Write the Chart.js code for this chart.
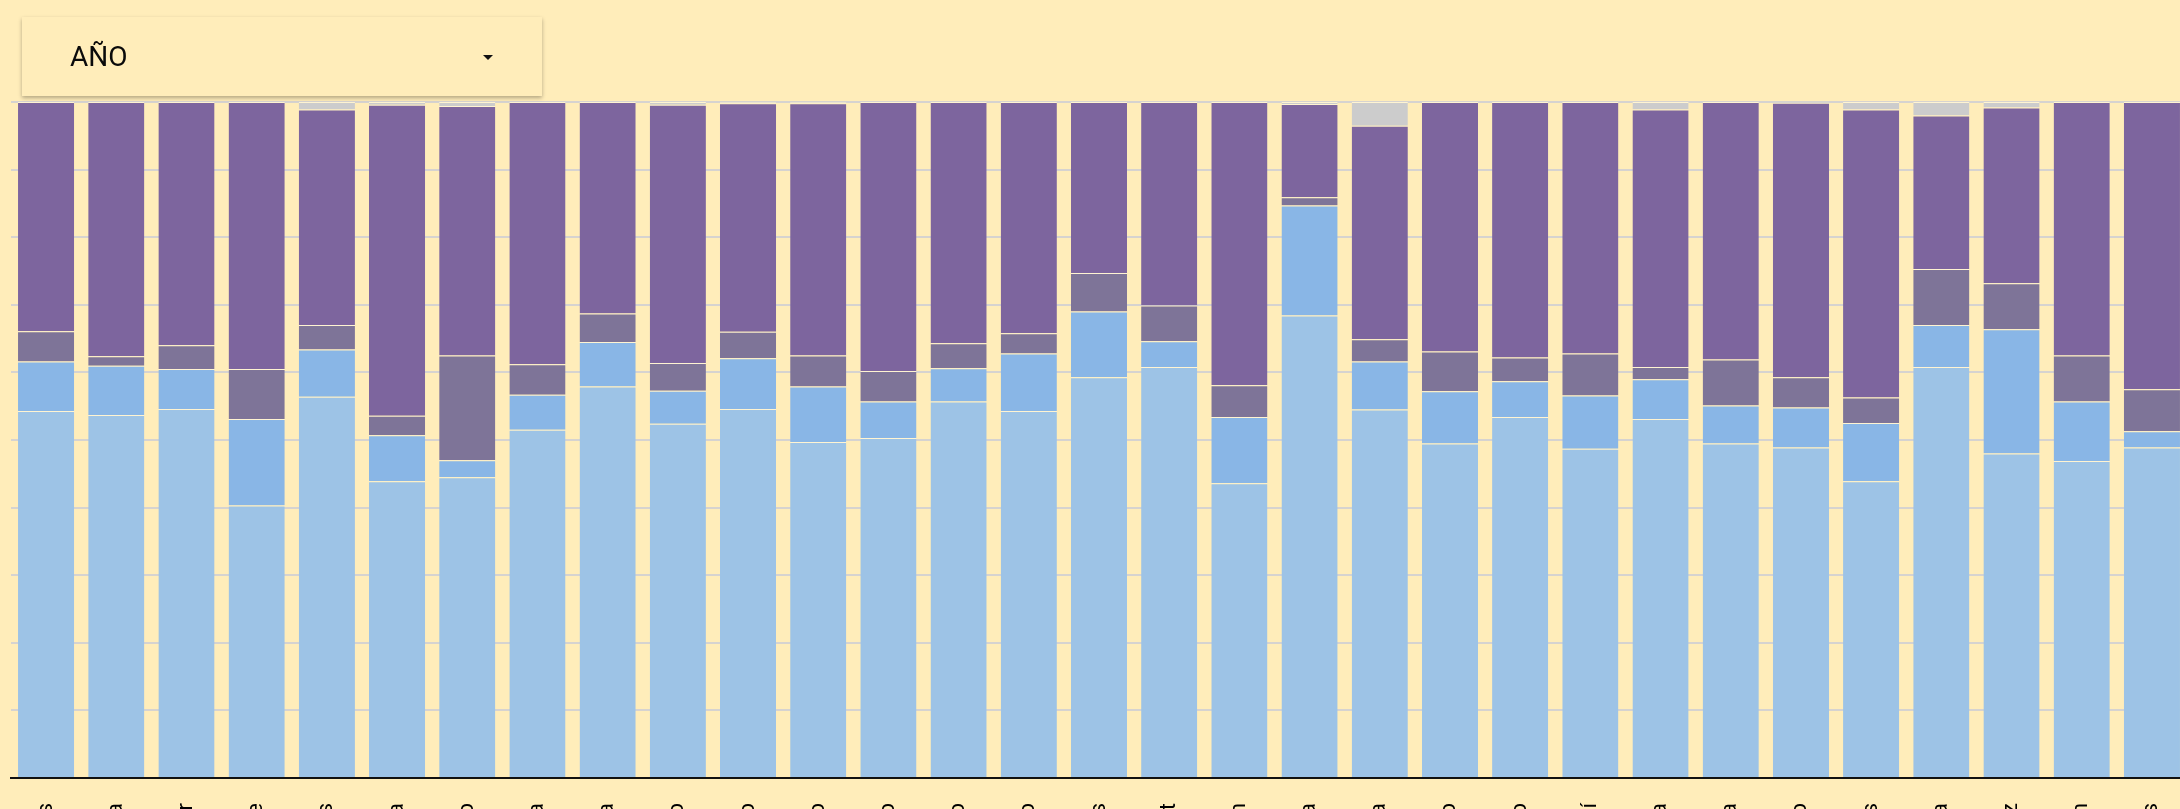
<!DOCTYPE html>
<html lang="es">
<head>
<meta charset="utf-8">
<title>Año</title>
<script src="https://cdn.jsdelivr.net/npm/chart.js@4.4.1/dist/chart.umd.min.js"></script>
<style>
  html, body {
    margin: 0;
    padding: 0;
    background: #ffedba;
    overflow: hidden;
    width: 2180px;
    height: 809px;
    font-family: Roboto, 'Noto Sans', sans-serif;
  }
  #chart {
    position: absolute;
    left: 0;
    top: 0;
  }
  .select-box {
    position: absolute;
    left: 22px;
    top: 17px;
    width: 520px;
    height: 79px;
    background: #ffedba;
    box-shadow: 0 2px 4px rgba(0, 0, 0, 0.3);
    z-index: 2;
  }
  .select-box span {
    position: absolute;
    left: 48px;
    top: 24px;
    font-size: 28px;
    line-height: 32px;
    color: #0a0a0a;
  }
  .select-box i {
    position: absolute;
    left: 461px;
    top: 38px;
    width: 0;
    height: 0;
    border-left: 5px solid transparent;
    border-right: 5px solid transparent;
    border-top: 5px solid #111;
  }
</style>
</head>
<body>
<div class="select-box"><span>AÑO</span><i></i></div>
<canvas id="chart" width="2187" height="1000"></canvas>
<script>
const estados = ['Aguascalientes', 'Baja California', 'Baja California Sur', 'Campeche', 'Chiapas', 'Chihuahua',
  'Ciudad de México', 'Coahuila', 'Colima', 'Durango', 'Guanajuato', 'Guerrero', 'Hidalgo', 'Jalisco', 'México',
  'Morelos', 'Nayarit', 'Nuevo León', 'Oaxaca', 'Puebla', 'Querétaro', 'Quintana Roo', 'San Luis Potosí',
  'Sinaloa', 'Sonora', 'Tabasco', 'Tamaulipas', 'Tlaxcala', 'Veracruz', 'Yucatán', 'Zacatecas'];

// percentages, bottom segment first
const serie1 = [54.3, 53.7, 54.6, 40.3, 56.4, 43.9, 44.5, 51.5, 57.9, 52.4, 54.6, 49.7, 50.3, 55.7, 54.3, 59.3,
  60.8, 43.6, 68.4, 54.5, 49.5, 53.4, 48.7, 53.1, 49.5, 48.9, 43.9, 60.8, 48.0, 46.9, 48.9];
const serie2 = [7.3, 7.3, 5.9, 12.8, 7.0, 6.8, 2.5, 5.2, 6.6, 4.9, 7.5, 8.2, 5.4, 4.9, 8.5, 9.7,
  3.8, 9.8, 16.3, 7.1, 7.7, 5.3, 7.9, 5.9, 5.6, 5.9, 8.6, 6.2, 18.4, 8.8, 2.4];
const serie3 = [4.5, 1.4, 3.5, 7.4, 3.6, 2.9, 15.5, 4.5, 4.2, 4.1, 3.9, 4.6, 4.5, 3.7, 3.0, 5.7,
  5.3, 4.7, 1.2, 3.3, 5.9, 3.5, 6.2, 1.8, 6.8, 4.5, 3.8, 8.3, 6.8, 6.8, 6.2];
const serie4 = [33.9, 37.6, 36.0, 39.5, 31.9, 46.0, 36.9, 38.8, 31.3, 38.2, 33.8, 37.3, 39.8, 35.7, 34.2, 25.3,
  30.1, 41.9, 13.8, 31.6, 36.9, 37.8, 37.2, 38.1, 38.1, 40.6, 42.6, 22.7, 26.0, 37.5, 42.5];
const serie5 = [0, 0, 0, 0, 1.1, 0.4, 0.6, 0, 0, 0.4, 0.2, 0.2, 0, 0, 0, 0,
  0, 0, 0.3, 3.5, 0, 0, 0, 1.1, 0, 0.1, 1.1, 2.0, 0.8, 0, 0];

const series = [serie1, serie2, serie3, serie4, serie5];
const colores = ['#9dc3e6', '#89b6e6', '#7e7498', '#7d659e', '#cccccc'];

const datasets = series.map((values, i) => ({
  label: 'Serie ' + (i + 1),
  data: values,
  backgroundColor: colores[i],
  borderColor: '#fff4d2',
  borderWidth: { top: 1, right: 0, bottom: 0, left: 0 },
  borderSkipped: 'start',
  barPercentage: 0.8,
  categoryPercentage: 1
}));

const ctx = document.getElementById('chart');
new Chart(ctx, {
  type: 'bar',
  data: {
    labels: estados,
    datasets: datasets
  },
  options: {
    responsive: false,
    animation: false,
    layout: {
      padding: { top: 102, left: 11, right: 0, bottom: 0 }
    },
    plugins: {
      legend: { display: false },
      tooltip: { enabled: false }
    },
    scales: {
      x: {
        stacked: true,
        grid: { display: false },
        border: { display: true, color: '#111', width: 2 },
        ticks: {
          autoSkip: false,
          minRotation: 90,
          maxRotation: 90,
          padding: 17,
          color: '#000',
          font: { family: 'Roboto', size: 22 }
        },
        afterFit: (scale) => {
          scale.height = 222;
          scale.paddingLeft = 0;
          scale.paddingRight = 0;
        }
      },
      y: {
        stacked: true,
        min: 0,
        max: 100,
        ticks: { display: false, stepSize: 10 },
        grid: { color: '#d6d3d0', lineWidth: 2, drawTicks: false },
        border: { display: false },
        afterFit: (scale) => {
          scale.width = 0;
        }
      }
    }
  }
});
</script>
</body>
</html>
